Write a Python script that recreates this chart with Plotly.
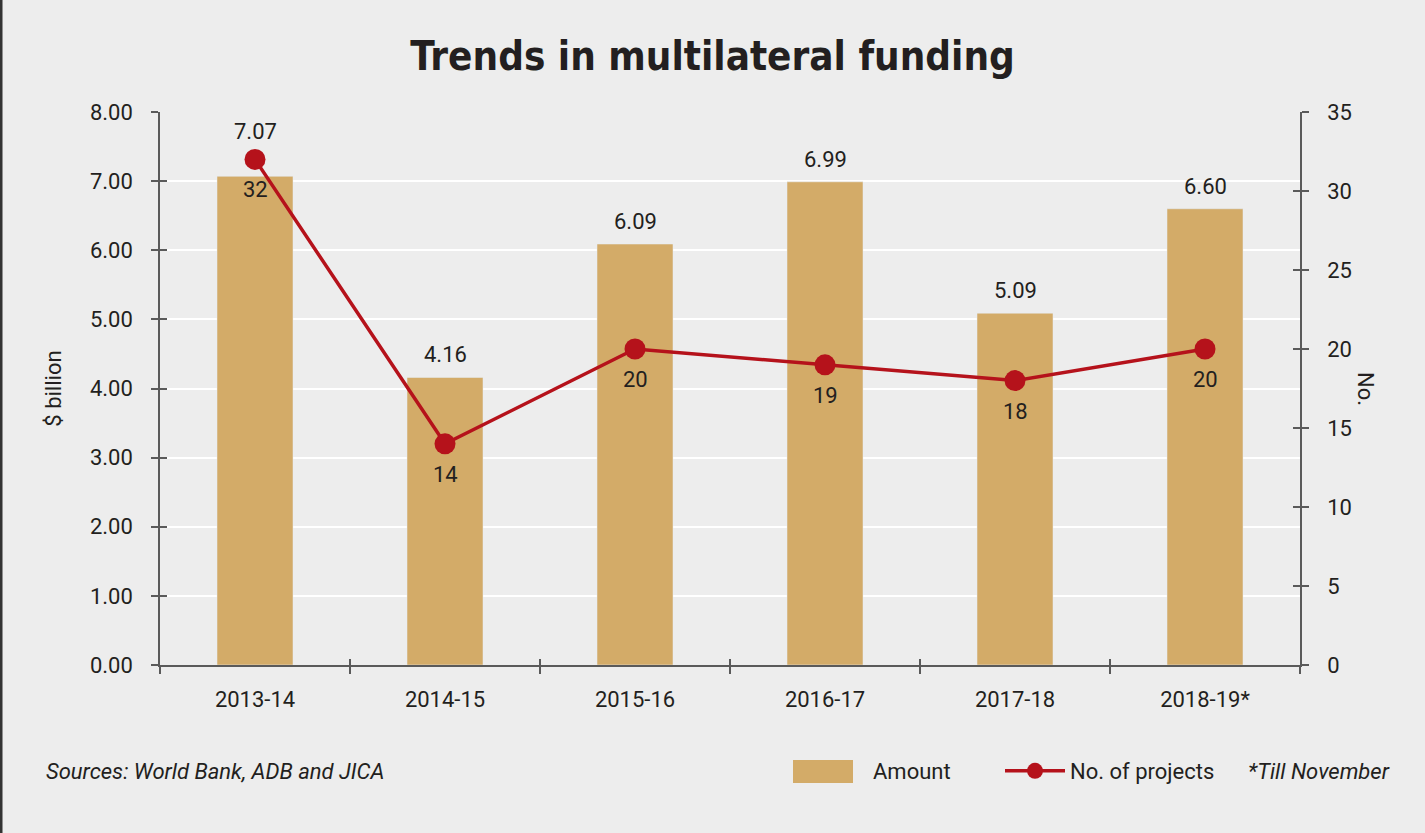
import plotly.graph_objects as go

years = ["2013-14", "2014-15", "2015-16", "2016-17", "2017-18", "2018-19*"]
amount = [7.07, 4.16, 6.09, 6.99, 5.09, 6.60]
projects = [32, 14, 20, 19, 18, 20]
label_lift = [30, 8, 8, 8, 8, 8]

font = "Roboto, Liberation Sans, sans-serif"
title_font = "DejaVu Sans Condensed, DejaVu Sans, sans-serif"
ink = "#231f20"
bg = "#ededed"
gold = "#d3ab68"
red = "#b5121b"
axc = "#5a5a5a"
fs = 22

W, H = 1425, 833
ml, mr, mt, mb = 160, 125, 112, 168
pw = W - ml - mr
ph = H - mt - mb
leg_y = -(771 - (H - mb)) / ph


def px_x(v):
    return (v - ml) / pw


def px_y(v):
    return (H - mb - v) / ph


fig = go.Figure()

fig.add_trace(go.Bar(
    x=years, y=amount, name="Amount", marker_color=gold, width=0.4,
    yaxis="y", showlegend=False
))

# legend entry for the bars; the key block itself is drawn as a shape below
fig.add_trace(go.Scatter(
    x=[None], y=[None], name="Amount", mode="lines",
    line=dict(color="rgba(0,0,0,0)", width=1), legend="legend"
))

fig.add_trace(go.Scatter(
    x=years, y=projects, name="No. of projects", yaxis="y2",
    mode="lines+markers",
    line=dict(color=red, width=3.5), marker=dict(color=red, size=21),
    legend="legend2"
))

# empty traces so the overlay axes (inner half of the ticks) get drawn
fig.add_trace(go.Scatter(x=[None], y=[None], xaxis="x2", yaxis="y3",
                         showlegend=False, hoverinfo="skip"))
fig.add_trace(go.Scatter(x=[None], y=[None], xaxis="x2", yaxis="y4",
                         showlegend=False, hoverinfo="skip"))

# value labels above the bars
for x, v, lift in zip(years, amount, label_lift):
    fig.add_annotation(x=x, y=v, xref="x", yref="y", text=f"{v:.2f}",
                       showarrow=False, yanchor="bottom", yshift=lift,
                       font=dict(size=fs, color=ink, family=font))

# project counts under the markers
for x, n in zip(years, projects):
    fig.add_annotation(x=x, y=n, xref="x", yref="y2", text=str(n),
                       showarrow=False, yanchor="top", yshift=-16,
                       font=dict(size=fs, color=ink, family=font))

axis_common = dict(showline=True, linecolor=axc, linewidth=1.5,
                   ticks="outside", ticklen=7, tickcolor=axc, tickwidth=1.5,
                   tickfont=dict(size=fs, color=ink, family=font))

inner_ticks = dict(showline=False, showgrid=False, zeroline=False,
                   showticklabels=False, ticks="inside",
                   tickcolor=axc, tickwidth=1.5)

legend_common = dict(orientation="h", y=leg_y, yanchor="middle", xanchor="left",
                     font=dict(size=fs, color=ink, family=font),
                     bgcolor="rgba(0,0,0,0)")

n = len(years)
fig.update_layout(
    width=W, height=H,
    margin=dict(l=ml, r=mr, t=mt, b=mb),
    paper_bgcolor=bg, plot_bgcolor=bg,
    font=dict(family=font, color=ink),
    title=dict(text="<b>Trends in multilateral funding</b>", x=0.5, xanchor="center",
               y=1 - 56 / H, yanchor="middle",
               font=dict(size=40, color=ink, family=title_font)),
    xaxis=dict(**axis_common, tickson="boundaries", range=[-0.5, n - 0.5],
               showgrid=False, ticklabelstandoff=14),
    xaxis2=dict(**inner_ticks, overlaying="x", anchor="y3", side="bottom",
                range=[-0.5, n - 0.5], tickvals=[i - 0.5 for i in range(n + 1)],
                ticklen=6),
    yaxis=dict(**axis_common, range=[0, 8], dtick=1, tickformat=".2f",
               showgrid=True, gridcolor="white", gridwidth=2,
               ticklabelstandoff=14, zeroline=False,
               title=dict(text="$ billion", standoff=22,
                          font=dict(size=fs, color=ink, family=font))),
    yaxis2=dict(**axis_common, overlaying="y", side="right", range=[0, 35], dtick=5,
                showgrid=False, zeroline=False, ticklabelstandoff=14),
    yaxis3=dict(**inner_ticks, overlaying="y", anchor="x2", side="left",
                range=[0, 8], dtick=1, ticklen=7),
    yaxis4=dict(**inner_ticks, overlaying="y", anchor="x2", side="right",
                range=[0, 35], dtick=5, ticklen=7),
    showlegend=True,
    legend=dict(**legend_common, x=px_x(788), itemwidth=75),
    legend2=dict(**legend_common, x=px_x(1000), itemwidth=60),
    bargap=0.6,
)

# legend key block for "Amount"
fig.add_shape(type="rect", xref="paper", yref="paper",
              x0=px_x(793), x1=px_x(853), y0=px_y(783), y1=px_y(760),
              fillcolor=gold, line=dict(width=0), layer="above")

fig.add_annotation(text="No.", textangle=90, x=px_x(1380), y=0.5,
                   xref="paper", yref="paper", showarrow=False,
                   font=dict(size=fs, color=ink, family=font))

fig.add_annotation(text="<i>Sources: World Bank, ADB and JICA</i>",
                   x=px_x(44), xanchor="left", y=leg_y, yanchor="middle",
                   xref="paper", yref="paper", showarrow=False,
                   font=dict(size=fs, color=ink, family=font))

fig.add_annotation(text="<i>*Till November</i>",
                   x=px_x(1392), xanchor="right", y=leg_y, yanchor="middle",
                   xref="paper", yref="paper", showarrow=False,
                   font=dict(size=fs, color=ink, family=font))

# left frame edge
fig.add_shape(type="line", xref="paper", yref="paper",
              x0=px_x(1), x1=px_x(1), y0=-mb / ph, y1=1 + mt / ph,
              line=dict(color="#333333", width=3))

fig.write_html("out.html", config={"displayModeBar": False},
               post_script="document.body.style.margin='0px';")
